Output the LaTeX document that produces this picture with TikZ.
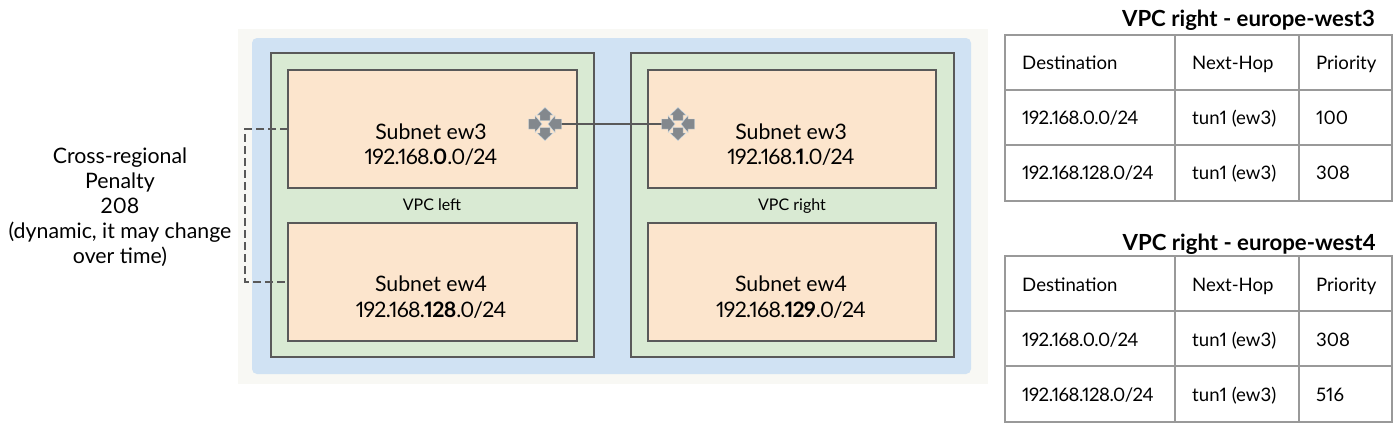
\documentclass[tikz,border=0pt]{standalone}
\usepackage{fontspec}
\setmainfont[Numbers=Proportional]{Lato}
\newcommand{\ipbig}{\addfontfeatures{LetterSpace=-3.4}}
\newcommand{\ipcell}{\addfontfeatures{LetterSpace=-2.7}}
\definecolor{halo}{HTML}{F8F8F4}
\definecolor{bluefill}{HTML}{D0E2F3}
\definecolor{greenfill}{HTML}{D9EAD3}
\definecolor{orangefill}{HTML}{FCE5CD}
\definecolor{frame}{HTML}{595959}
\definecolor{iconc}{HTML}{83888D}
\definecolor{iconedge}{HTML}{C9DBE8}
\definecolor{grid}{HTML}{999999}
\tikzset{
 x=1pt,y=-1pt,
 vpc/.style={draw=frame,line width=1.6pt,fill=greenfill,minimum width=323pt,minimum height=304pt,anchor=north west,inner sep=0pt,outer sep=0pt},
 subnet/.style={draw=frame,line width=1.6pt,fill=orangefill,minimum width=289pt,minimum height=118pt,anchor=north west,inner sep=0pt,outer sep=0pt},
 lbl/.style={font=\fontsize{21.3}{24}\selectfont,anchor=base,inner sep=0pt},
 small/.style={font=\fontsize{16}{16}\selectfont,inner sep=0pt,anchor=base},
 cell/.style={font=\fontsize{18.6}{20}\selectfont,anchor=base west,inner sep=0pt},
 ttl/.style={font=\fontsize{22.2}{22}\selectfont\bfseries,anchor=base east,inner sep=0pt},
 gridline/.style={draw=grid,line width=1.4pt},
 dashc/.style={draw=frame,line width=1.4pt,dash pattern=on 8pt off 4pt},
 link/.style={draw=frame,line width=1.3pt},
 rtr/.style={inner sep=0pt,minimum size=32pt,shape=rectangle},
 ipiece/.style={fill=iconc,draw=iconedge,line width=.4pt},
}
\newcommand{\routericon}[1]{%
 \begin{scope}[shift={(#1)}]
  \filldraw[ipiece] (0,-16.5)--(8,-9)--(5,-9)--(5,-3.5)--(-5,-3.5)--(-5,-9)--(-8,-9)--cycle;
  \filldraw[ipiece] (0,16.5)--(8,9)--(5,9)--(5,3.5)--(-5,3.5)--(-5,9)--(-8,9)--cycle;
  \filldraw[ipiece] (-3,0)--(-10,-8.5)--(-10,-5)--(-16.5,-5)--(-16.5,5)--(-10,5)--(-10,8.5)--cycle;
  \filldraw[ipiece] (3,0)--(10,-8.5)--(10,-5)--(16.5,-5)--(16.5,5)--(10,5)--(10,8.5)--cycle;
 \end{scope}}
\begin{document}
\begin{tikzpicture}
\useasboundingbox (0,0) rectangle (1400,429);
\fill[white] (0,0) rectangle (1400,429);
\fill[halo] (238,29) rectangle (988,384);
\fill[bluefill,rounded corners=5pt] (252,38) rectangle (971,374);
\node[vpc] (vl) at (271,53) {};
\node[vpc] (vr) at (631,53) {};
\node[subnet] (la) at (288,70) {};
\node[subnet] (lb) at (288,223) {};
\node[subnet,minimum width=288pt] (ra) at (648,70) {};
\node[subnet,minimum width=288pt] (rb) at (648,223) {};
\node[lbl] (la1) at (431,139) {Subnet ew3};
\node[lbl] (la2) at (431,164) {\ipbig 192.168.\textbf{0}.0/24};
\node[lbl] (lb1) at (431,291) {Subnet ew4};
\node[lbl] (lb2) at (431,317) {\ipbig 192.168.\textbf{128}.0/24};
\node[lbl] (ra1) at (791,139) {Subnet ew3};
\node[lbl] (ra2) at (791,164) {\ipbig 192.168.\textbf{1}.0/24};
\node[lbl] (rb1) at (791,291) {Subnet ew4};
\node[lbl] (rb2) at (791,317) {\ipbig 192.168.\textbf{129}.0/24};
\node[small] (vll) at (432,210) {VPC left};
\node[small] (vrl) at (792,210) {VPC right};
\node[lbl] (p1) at (120,163) {Cross-regional};
\node[lbl] (p2) at (120,188) {Penalty};
\node[lbl] (p3) at (120,213) {208};
\node[lbl] (p4) at (120,238) {(dynamic, it may change};
\node[lbl] (p5) at (120,263) {over time)};
\coordinate (ta) at (245,129);
\coordinate (tb) at (245,282);
\draw[dashc] (la.west|-ta) -- (ta) -- (tb) -- (lb.west|-tb);
\node[rtr] (r1) at (545,124) {};
\node[rtr] (r2) at (678,124) {};
\draw[link] (r1) -- (r2);
\routericon{545,124}
\routericon{678,124}
% table 1
\node[ttl] (t1) at (1375,26) {VPC right - europe-west3};
\draw[gridline] (1005,35) rectangle (1392,201);
\draw[gridline] (1005,90)--(1392,90) (1005,145)--(1392,145) (1175,35)--(1175,201) (1299,35)--(1299,201);
\node[cell] (c1) at (1022,69.5) {Destination};
\node[cell] (c2) at (1192,69.5) {Next-Hop};
\node[cell] (c3) at (1316,69.5) {Priority};
\node[cell] (c4) at (1022,124.5) {\ipcell 192.168.0.0/24};
\node[cell] (c5) at (1192,124.5) {tun1 (ew3)};
\node[cell] (c6) at (1316,124.5) {100};
\node[cell] (c7) at (1022,179.5) {\ipcell 192.168.128.0/24};
\node[cell] (c8) at (1192,179.5) {tun1 (ew3)};
\node[cell] (c9) at (1316,179.5) {308};
% table 2
\node[ttl] (t2) at (1376,250) {VPC right - europe-west4};
\draw[gridline] (1005,256) rectangle (1392,422);
\draw[gridline] (1005,311)--(1392,311) (1005,366)--(1392,366) (1175,256)--(1175,422) (1299,256)--(1299,422);
\node[cell] (d1) at (1022,291) {Destination};
\node[cell] (d2) at (1192,291) {Next-Hop};
\node[cell] (d3) at (1316,291) {Priority};
\node[cell] (d4) at (1022,346) {\ipcell 192.168.0.0/24};
\node[cell] (d5) at (1192,346) {tun1 (ew3)};
\node[cell] (d6) at (1316,346) {308};
\node[cell] (d7) at (1022,401) {\ipcell 192.168.128.0/24};
\node[cell] (d8) at (1192,401) {tun1 (ew3)};
\node[cell] (d9) at (1316,401) {516};
\end{tikzpicture}
\end{document}
